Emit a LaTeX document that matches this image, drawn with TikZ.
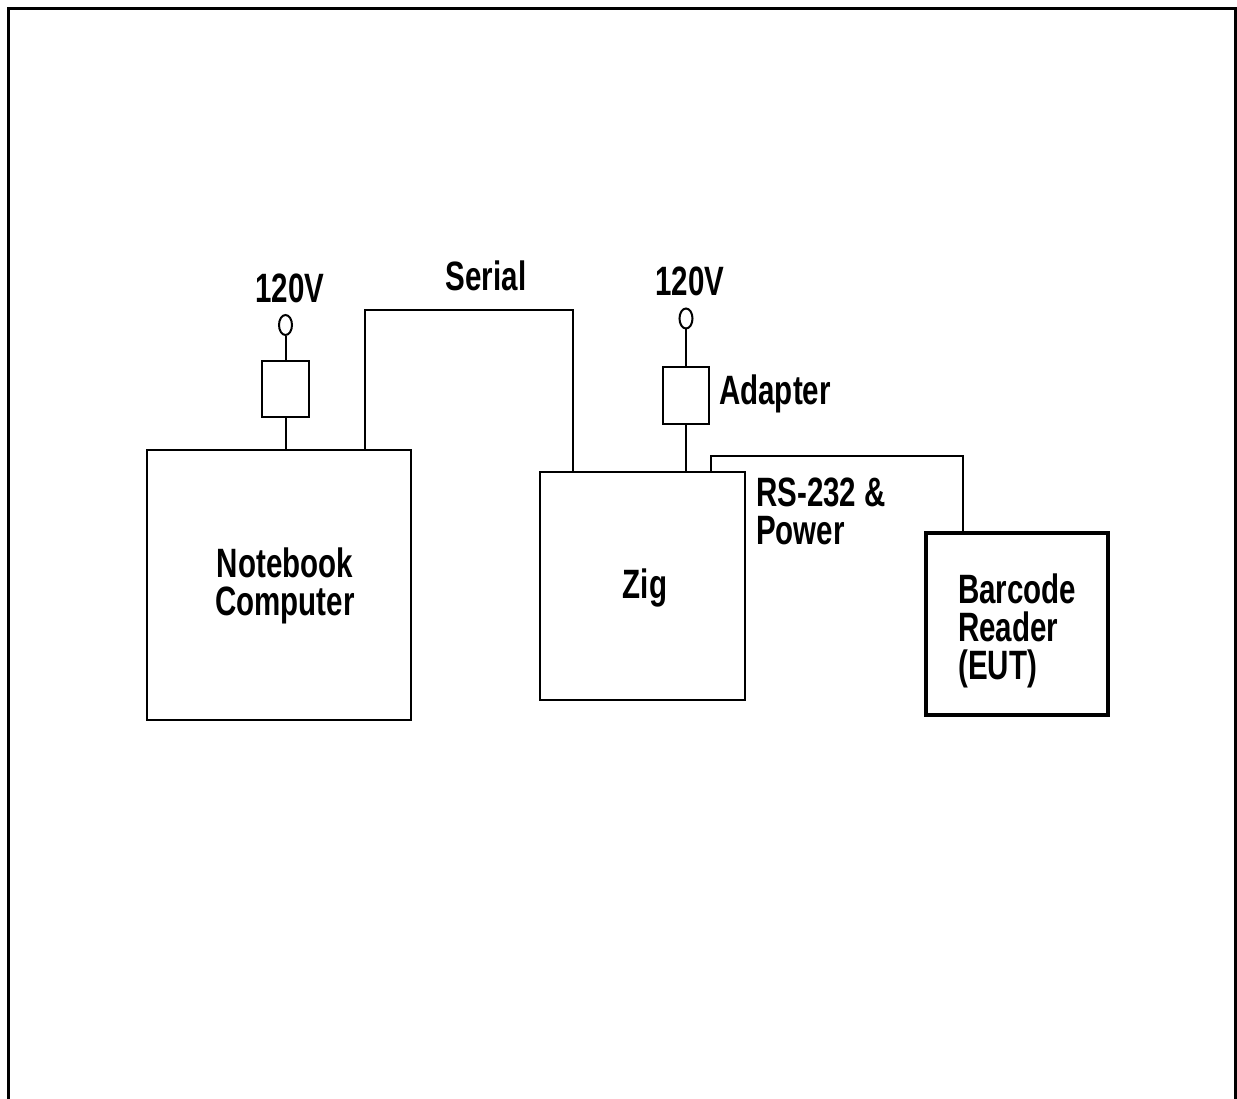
\documentclass[tikz,border=0pt]{standalone}
\usepackage{fontspec}
\setmainfont{Liberation Sans}[FakeStretch=0.72]
\usetikzlibrary{shapes.geometric}
\begin{document}
\begin{tikzpicture}[x=1pt,y=-1pt,
  box/.style={draw, line width=2pt, rectangle, inner sep=0pt},
  plug/.style={draw, line width=2pt, ellipse, minimum width=13pt, minimum height=20pt, inner sep=0pt},
  wire/.style={line width=2pt},
  lbl/.style={font=\fontsize{41}{38}\selectfont\bfseries, inner sep=0pt, align=center},
  lbll/.style={font=\fontsize{41}{38}\selectfont\bfseries, inner sep=0pt, align=left}]
\useasboundingbox (0,0) rectangle (1237,1099);
\draw[line width=3pt] (8,1100) -- (8,9) -- (1235,9) -- (1235,1100);
% boxes
\node[box, minimum width=264pt, minimum height=270pt] (notebook) at (279,585) {};
\node[box, minimum width=205pt, minimum height=228pt] (zig) at (642.5,586) {};
\node[box, line width=4pt, minimum width=182pt, minimum height=182pt] (barcode) at (1017,624) {};
\node[box, minimum width=47pt, minimum height=56pt] (ladapter) at (285.5,389) {};
\node[box, minimum width=46pt, minimum height=57pt] (radapter) at (686,395.5) {};
\node[plug] (lplug) at (285.5,325) {};
\node[plug] (rplug) at (686,318.5) {};
% texts
\node[lbl] (tnote) at (285,586) {Notebook\\Computer};
\node[lbl] (tzig) at (645,588) {Zig};
\node[lbll, anchor=west] (tbar) at (958,631) {Barcode\\Reader\\(EUT)};
\node[lbl] (tv1) at (290,288) {120V};
\node[lbl] (tv2) at (690,281) {120V};
\node[lbl] (tser) at (486,276) {Serial};
\node[lbll, anchor=west] (tad) at (719,394) {Adapter};
\node[lbll, anchor=west] (trs) at (756,511) {RS-232 \&\\Power};
% wires
\draw[wire] (lplug.south) -- (ladapter.north);
\draw[wire] (ladapter.south) -- (ladapter.south |- notebook.north);
\draw[wire] (rplug.south) -- (radapter.north);
\draw[wire] (radapter.south) -- (radapter.south |- zig.north);
\coordinate (s1) at (365,310);
\coordinate (s2) at (573,310);
\draw[wire] (s1 |- notebook.north) -- (s1) -- (s2) -- (s2 |- zig.north);
\coordinate (r1) at (711,456);
\coordinate (r2) at (963,456);
\draw[wire] (r1 |- zig.north) -- (r1) -- (r2) -- (r2 |- barcode.north);
\end{tikzpicture}
\end{document}
